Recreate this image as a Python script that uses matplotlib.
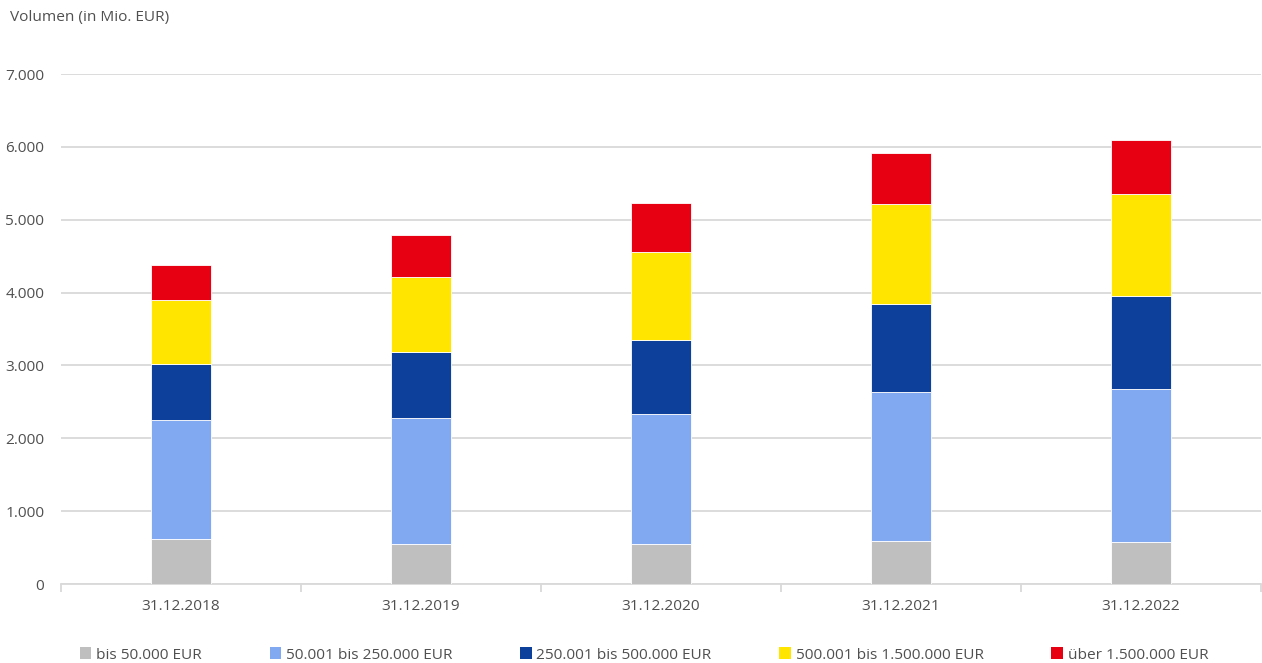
import matplotlib
matplotlib.use("Agg")
import matplotlib.pyplot as plt
from matplotlib.patches import Patch
import numpy as np

categories = ["31.12.2018", "31.12.2019", "31.12.2020", "31.12.2021", "31.12.2022"]
series_names = ["bis 50.000 EUR", "50.001 bis 250.000 EUR", "250.001 bis 500.000 EUR",
                "500.001 bis 1.500.000 EUR", "über 1.500.000 EUR"]
bis_50k = [620, 550, 550, 590, 580]
v50k_250k = [1630, 1730, 1785, 2050, 2100]
v250k_500k = [770, 910, 1015, 1200, 1270]
v500k_1500k = [875, 1030, 1210, 1370, 1400]
ueber_1500k = [480, 570, 670, 710, 750]
colors = ["#bfbfbf", "#81a9f2", "#0d409a", "#ffe500", "#e60012"]
yticks = [0, 1000, 2000, 3000, 4000, 5000, 6000, 7000]
ytick_labels = ["0", "1.000", "2.000", "3.000", "4.000", "5.000", "6.000", "7.000"]

plt.rcParams['font.family'] = ['Open Sans', 'DejaVu Sans']
txt = "#505050"
fs = 11.1

fig = plt.figure(figsize=(12.62, 6.63), dpi=100)
W, H = 1262, 663
ax = fig.add_axes([61 / W, (H - 584) / H, 1200 / W, 510 / H])

data = [bis_50k, v50k_250k, v250k_500k, v500k_1500k, ueber_1500k]
x = np.arange(len(categories))
bottom = np.zeros(len(categories))
for vals, c, n in zip(data, colors, series_names):
    ax.bar(x, vals, width=0.25, bottom=bottom, color=c, edgecolor="white",
           linewidth=0.6, label=n, zorder=3)
    bottom += np.array(vals)

ax.set_xlim(-0.5, len(categories) - 0.5)
ax.set_ylim(0, 7000)
ax.set_yticks(yticks)
ax.set_yticklabels(ytick_labels)
ax.yaxis.grid(True, color="#d9d9d9", linewidth=1.3, zorder=0)
ax.set_axisbelow(True)
for s in ["top", "right", "left"]:
    ax.spines[s].set_visible(False)
ax.spines["bottom"].set_color("#d9d9d9")
ax.spines["bottom"].set_linewidth(1.3)
ax.tick_params(axis="y", length=0, pad=12, labelsize=fs, labelcolor=txt)
ax.set_xticks(x)
ax.set_xticklabels(categories)
ax.tick_params(axis="x", which="major", length=0, pad=11, labelsize=fs, labelcolor=txt)
ax.set_xticks(np.arange(-0.5, len(categories), 1.0), minor=True)
ax.tick_params(axis="x", which="minor", length=6, width=1.3, color="#d9d9d9")

fig.text(10 / W, 1 - 18 / H, "Volumen (in Mio. EUR)", fontsize=fs, color=txt,
         va="center", ha="left")

handles = [Patch(facecolor=c, edgecolor="none", label=n) for c, n in zip(colors, series_names)]
leg = fig.legend(handles=handles, loc="center", bbox_to_anchor=(644 / W, 1 - 655 / H),
                 ncol=5, frameon=False, fontsize=fs, handlelength=0.75, handleheight=0.75,
                 handletextpad=0.3, columnspacing=4.4, labelcolor=txt)

fig.savefig("out.png", dpi=100)
